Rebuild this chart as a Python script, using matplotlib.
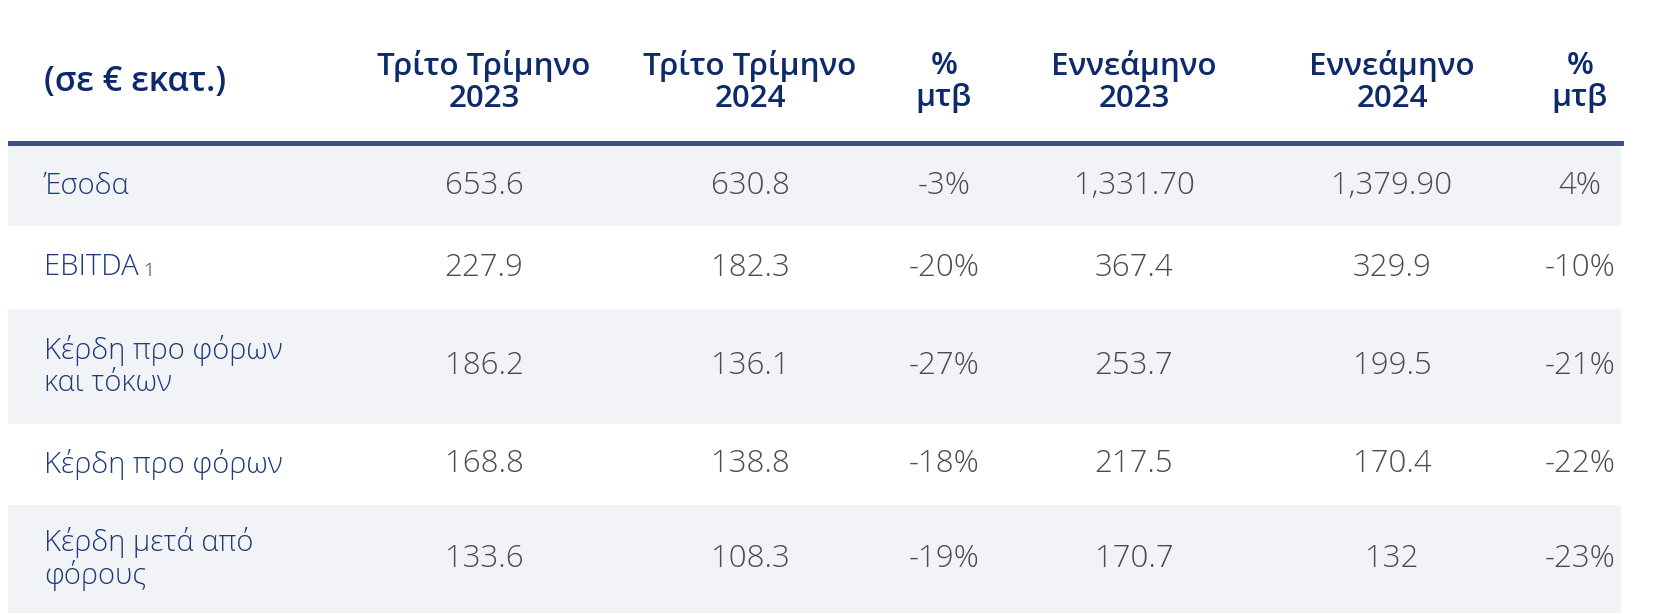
import matplotlib
matplotlib.use("Agg")
import matplotlib.pyplot as plt
from matplotlib.patches import Rectangle

# table content
headers = ["(σε € εκατ.)", "Τρίτο Τρίμηνο\n2023", "Τρίτο Τρίμηνο\n2024", "%\nμτβ",
           "Εννεάμηνο\n2023", "Εννεάμηνο\n2024", "%\nμτβ"]
row_labels = ["Έσοδα", "EBITDA", "Κέρδη προ φόρων\nκαι τόκων", "Κέρδη προ φόρων",
              "Κέρδη μετά από\nφόρους"]
q3_2023 = ["653.6", "227.9", "186.2", "168.8", "133.6"]
q3_2024 = ["630.8", "182.3", "136.1", "138.8", "108.3"]
q3_yoy = ["-3%", "-20%", "-27%", "-18%", "-19%"]
m9_2023 = ["1,331.70", "367.4", "253.7", "217.5", "170.7"]
m9_2024 = ["1,379.90", "329.9", "199.5", "170.4", "132"]
m9_yoy = ["4%", "-10%", "-21%", "-22%", "-23%"]
footnote_marks = {1: "1"}

columns = [q3_2023, q3_2024, q3_yoy, m9_2023, m9_2024, m9_yoy]

# layout (pixels)
W, H = 1654, 613
col_x = [484, 750, 944, 1134, 1392, 1580]
label_x = 44
rule_top, rule_bot = 141, 146
row_h = [80, 83, 115, 81, 108]
left, right = 8, 1624

NAVY = "#0c2a6c"
LABEL = "#1d3a7a"
GREY_TXT = "#4c4c50"
RULE = "#3c5282"
ROW_BG = "#f2f3f6"

fig = plt.figure(figsize=(W / 100, H / 100), dpi=100)
ax = fig.add_axes([0, 0, 1, 1])
ax.set_xlim(0, W)
ax.set_ylim(H, 0)
ax.axis("off")

# header
ax.text(label_x, 82, headers[0], fontsize=24.5, fontweight="semibold", color=NAVY,
        family="Open Sans", va="center", ha="left")
for x, h in zip(col_x, headers[1:]):
    ax.text(x, 82, h, fontsize=22.5, fontweight="semibold", color=NAVY,
            family="Open Sans", va="center", ha="center", linespacing=1.05)

ax.add_patch(Rectangle((left, rule_top), right - left, rule_bot - rule_top,
                       color=RULE, lw=0))

y = rule_bot
for i, lab in enumerate(row_labels):
    h = row_h[i]
    if i % 2 == 0:
        ax.add_patch(Rectangle((left, y), right - 3 - left, h, color=ROW_BG, lw=0))
    yc = y + h / 2
    t = ax.text(label_x, yc, lab, fontsize=21, fontweight="light", color=LABEL,
                family="Open Sans", va="center", ha="left", linespacing=1.1)
    if i in footnote_marks:
        ax.annotate(footnote_marks[i], xy=(1, 0.06), xycoords=t, xytext=(3, 0),
                    textcoords="offset points", fontsize=14, fontweight="light",
                    color=LABEL, family="Open Sans", va="bottom", ha="left")
    for x, col in zip(col_x, columns):
        ax.text(x, yc, col[i], fontsize=22.5, fontweight="light", color=GREY_TXT,
                family="Open Sans", va="center", ha="center")
    y += h

fig.savefig("out.png", dpi=100, facecolor="white")
